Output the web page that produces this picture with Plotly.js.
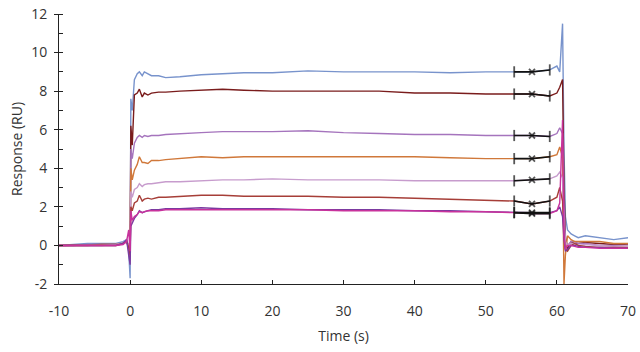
<!DOCTYPE html>
<html><head><meta charset="utf-8">
<script src="https://cdn.plot.ly/plotly-3.0.1.min.js"></script>
<style>html,body{margin:0;padding:0;background:#fff}#chart{width:640px;height:352px}</style>
</head><body><div id="chart"></div>
<script>
const time = [-10,-8,-6,-4,-2,-1,-0.5,-0.2,0,0.1,0.3,0.6,1,1.3,1.7,2,2.5,3,4,5,7,10,13,16,20,25,30,35,40,45,50,54,56.5,59,60,60.4,60.8,61,61.2,61.5,62,62.5,63,64,66,68,70];

const blue    = [0,0.05,0.1,0.1,0.1,0.2,0.3,-0.3,-1.7,7.6,7.0,8.6,8.9,9.0,8.8,9.0,8.9,8.8,8.8,8.7,8.75,8.85,8.9,8.95,8.95,9.05,9.0,9.0,9.0,8.95,9.0,9.0,9.0,9.1,9.3,9.0,11.5,5,1.5,0.8,0.6,0.5,0.4,0.5,0.4,0.3,0.4];
const darkRed = [0,0.02,0.05,0.05,0.05,0.1,0.2,0.0,-0.5,6.2,5.2,7.8,7.9,8.1,7.7,7.9,7.8,7.9,7.95,7.95,8.0,8.05,8.1,8.05,8.0,8.0,8.0,8.0,7.9,7.9,7.85,7.85,7.85,7.75,7.9,8.2,8.6,3,0.5,-0.2,0.2,0.1,0.1,0.15,0.1,0.05,0.05];
const purple  = [0,0.0,0.05,0.05,0.05,0.1,0.25,-0.2,-0.8,5.0,4.5,5.3,5.6,5.7,5.6,5.7,5.65,5.7,5.7,5.75,5.8,5.85,5.9,5.9,5.9,5.95,5.85,5.8,5.75,5.75,5.7,5.7,5.7,5.65,5.8,6.1,5.8,2,0.3,0.0,0.2,0.2,0.1,0.1,0.0,0.0,0.0];
const orange  = [0,0.0,0.0,0.05,0.05,0.1,0.2,-0.1,-0.6,4.0,3.4,3.9,4.2,4.6,4.3,4.3,4.25,4.4,4.4,4.45,4.5,4.6,4.55,4.6,4.6,4.6,4.6,4.6,4.6,4.55,4.5,4.5,4.5,4.6,4.7,5.1,4.6,-2.0,-0.5,0.5,0.3,0.2,0.2,0.2,0.2,0.1,0.1];
const lilac   = [0,0.0,0.0,0.0,0.05,0.1,0.3,0.0,-0.4,2.8,2.5,2.9,3.0,3.2,3.05,3.15,3.2,3.2,3.25,3.3,3.3,3.35,3.4,3.4,3.45,3.4,3.4,3.4,3.35,3.35,3.35,3.35,3.4,3.45,3.6,3.8,3.5,1,0.2,0.0,0.1,0.1,0.0,0.05,0.0,-0.05,0.0];
const brownRed= [0,0.0,0.0,0.0,0.0,0.1,0.25,-0.1,-0.5,2.0,1.8,2.2,2.3,2.6,2.3,2.4,2.45,2.4,2.5,2.5,2.55,2.6,2.6,2.55,2.55,2.55,2.5,2.5,2.45,2.4,2.35,2.3,2.15,2.3,2.5,3.0,2.3,0.5,-0.2,-0.3,0.0,0.1,0.0,-0.05,-0.1,-0.1,-0.1];
const violet  = [0,0.0,0.0,0.0,0.0,0.1,0.3,-0.5,-1.0,1.0,1.2,1.4,1.6,1.8,1.7,1.75,1.8,1.85,1.85,1.9,1.9,1.95,1.9,1.9,1.9,1.85,1.85,1.85,1.8,1.8,1.75,1.7,1.7,1.7,1.8,2.0,1.5,0.3,-0.3,-0.2,0.0,0.0,-0.05,-0.1,-0.1,-0.15,-0.15];
const magenta = [0,0.0,0.0,0.0,0.0,0.05,0.2,0.8,-0.3,1.8,1.3,1.5,1.6,1.75,1.7,1.75,1.8,1.8,1.8,1.85,1.85,1.85,1.85,1.85,1.85,1.85,1.8,1.8,1.8,1.75,1.75,1.7,1.65,1.65,1.8,2.2,6.5,0.5,-0.2,0.0,0.0,-0.05,-0.1,-0.1,-0.15,-0.15,-0.15];

const seriesList = [blue, darkRed, purple, orange, lilac, brownRed, violet, magenta];
const seriesColors = ['#7893cc','#7a1c1c','#a574bd','#d0783a','#c79ccd','#a63e38','#7b3aa0','#c8329c'];
const reportTimes = [54, 56.5, 59];

const xTickVals = [-10,0,10,20,30,40,50,60,70];
const xTickText = ['-10','0','10','20','30','40','50','60','70'];
const yTickVals = [-2,0,2,4,6,8,10,12];
const yTickText = ['-2','0','2','4','6','8','10','12'];

const traces = [];
seriesList.forEach((s, i) => {
  traces.push({x: time, y: s, type: 'scatter', mode: 'lines',
    line: {color: seriesColors[i], width: 1.4}, hoverinfo: 'skip'});
});
seriesList.forEach((s) => {
  const ry = reportTimes.map(t => s[time.indexOf(t)]);
  traces.push({x: reportTimes, y: ry, yaxis: 'y2', type: 'scatter', mode: 'lines+markers',
    line: {color: '#111', width: 1.6},
    marker: {symbol: ['line-ns','x-thin','line-ns'], size: [8,6,8], color: '#111', line: {color: '#111', width: 1.8}},
    hoverinfo: 'skip'});
});

const tickFont = {family: 'Open Sans, sans-serif', size: 14, color: '#333'};
const layout = {
  width: 640, height: 352,
  margin: {l: 59, r: 12, t: 14, b: 68},
  paper_bgcolor: '#fff', plot_bgcolor: '#fff',
  showlegend: false,
  xaxis: {range: [-10, 70], tickmode: 'array', tickvals: xTickVals, ticktext: xTickText,
    showgrid: false, zeroline: false,
    showline: true, linecolor: '#222', linewidth: 1, ticks: 'inside', ticklen: 4, tickcolor: '#222',
    ticklabelstandoff: 14,
    tickfont: tickFont, title: {text: 'Time (s)', font: tickFont, standoff: 12}},
  yaxis: {range: [-2, 12], tickmode: 'array', tickvals: yTickVals, ticktext: yTickText,
    showgrid: false, zeroline: false,
    showline: true, linecolor: '#222', linewidth: 1, ticks: 'outside', ticklen: 4, tickcolor: '#222',
    ticklabelstandoff: 4,
    minor: {dtick: 1, ticks: 'inside', ticklen: 4, tickcolor: '#222', showgrid: false},
    tickfont: tickFont, title: {text: 'Response (RU)', font: tickFont, standoff: 5}},
  yaxis2: {range: [-2, 12], dtick: 2, overlaying: 'y', side: 'left', showgrid: false, zeroline: false,
    showline: false, ticks: 'inside', ticklen: 4, tickcolor: '#222', showticklabels: false}
};
Plotly.newPlot('chart', traces, layout, {staticPlot: true});
</script></body></html>
